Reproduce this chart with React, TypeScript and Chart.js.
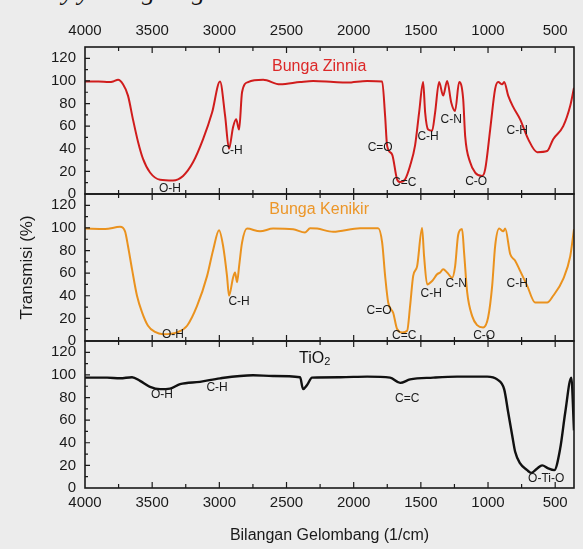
import { useEffect, useRef } from "react";
import { Chart, registerables } from "chart.js";

Chart.register(...registerables);

// ---------- data (wavenumber in 1/cm, transmission in %) ----------
const zinniaWn = [4000, 3900, 3820, 3790, 3754, 3717, 3680, 3643, 3605, 3568, 3516, 3441, 3345, 3270, 3196, 3121, 3054, 2995, 2957, 2928, 2898, 2875, 2853, 2831, 2786, 2674, 2548, 2399, 2302, 2150, 2050, 1900, 1788, 1766, 1751, 1714, 1677, 1654, 1617, 1580, 1543, 1513, 1483, 1468, 1446, 1416, 1394, 1364, 1334, 1304, 1274, 1245, 1215, 1185, 1170, 1133, 1096, 1044, 1021, 984, 947, 924, 895, 880, 850, 813, 761, 701, 634, 560, 515, 440, 388, 360];
const zinniaT = [99.5, 99.5, 99, 99.5, 101, 97, 87, 66, 46, 31, 19, 12.6, 12, 16, 28, 48.5, 72, 99.5, 69, 40, 59, 66, 57, 90, 99, 101, 97, 99, 100, 99, 98.5, 100, 99.5, 69, 42.6, 35, 13, 10.6, 13, 25, 43, 72, 99, 72, 57, 56, 72, 99, 87, 100, 81, 73.5, 99, 84, 51, 28, 19, 16, 22, 57, 93, 99, 97, 99, 87, 77, 66, 48.5, 37, 38, 48.5, 60, 78, 94];

const kenikirWn = [4000, 3850, 3739, 3702, 3680, 3650, 3613, 3576, 3531, 3479, 3419, 3315, 3240, 3166, 3091, 3047, 3002, 2972, 2943, 2928, 2898, 2883, 2868, 2853, 2831, 2794, 2697, 2600, 2451, 2362, 2324, 2272, 2153, 1952, 1818, 1788, 1766, 1743, 1706, 1677, 1639, 1602, 1580, 1557, 1528, 1491, 1476, 1453, 1416, 1379, 1356, 1334, 1304, 1267, 1245, 1222, 1193, 1178, 1155, 1118, 1081, 1036, 999, 969, 947, 917, 887, 872, 835, 798, 761, 709, 649, 560, 515, 440, 388, 360];
const kenikirT = [99.4, 99, 101, 97, 84, 63.5, 40, 25.6, 13.5, 8, 6, 7.6, 13.5, 31, 57.6, 80, 98, 84, 57.6, 40, 56, 60.6, 52, 66, 87, 99.4, 97, 99.4, 98.8, 96, 99.7, 99.4, 96.6, 99.7, 99.7, 87, 57.6, 34, 25, 10.6, 7.6, 9, 31, 57.6, 66, 100, 75, 50, 53, 59, 60.6, 63.5, 60.6, 56, 66, 94, 99, 78, 43, 22, 14, 12, 21, 49, 84, 99.4, 97, 99.4, 77, 71, 62, 49, 34, 34, 40, 55, 75, 99];

const tio2Wn = [4000, 3836, 3739, 3650, 3590, 3516, 3441, 3367, 3292, 3144, 2995, 2749, 2600, 2399, 2377, 2347, 2310, 2101, 1900, 1729, 1654, 1580, 1408, 1230, 1006, 932, 880, 850, 820, 798, 761, 709, 679, 634, 597, 552, 507, 463, 425, 380, 360];
const tio2T = [97.6, 97.6, 97, 98, 94.7, 89.5, 87.4, 87.9, 91.8, 93.9, 97, 99.7, 99, 98, 87.4, 91, 97.6, 98, 98.5, 97.6, 93, 96, 97.6, 98.5, 98.5, 96, 87.4, 67, 46.5, 32, 21.7, 15.8, 13.4, 17.3, 20, 17.3, 15.8, 34.8, 67, 97.6, 51];

// axis tick labels
const xTickValues = [4000, 3500, 3000, 2500, 2000, 1500, 1000, 500];
const xMinorValues = [3750, 3250, 2750, 2250, 1750, 1250, 750];
const yTickValues = [0, 20, 40, 60, 80, 100, 120];
const yMinorValues = [10, 30, 50, 70, 90, 110];

// band annotations (placed in data coordinates)
const zinniaBands = ["O-H", "C-H", "C=O", "C=C", "C-H", "C-N", "C-O", "C-H"];
const zinniaBandWn = [3367, 2905, 1803, 1624, 1446, 1274, 1088, 783];
const zinniaBandT = [4.4, 38, 40.6, 9.7, 51, 66, 10.6, 55.6];

const kenikirBands = ["O-H", "C-H", "C=O", "C=C", "C-H", "C-N", "C-O", "C-H"];
const kenikirBandWn = [3345, 2853, 1811, 1624, 1423, 1237, 1029, 783];
const kenikirBandT = [5.3, 34.4, 26.5, 4.4, 41.5, 50.3, 4.4, 51];

const tio2Bands = ["O-H", "C-H", "C=C", "O-Ti-O"];
const tio2BandWn = [3427, 3017, 1602, 567];
const tio2BandT = [82.5, 88.6, 79, 7.9];

const panelNames = ["Bunga Zinnia", "Bunga Kenikir", "TiO"];
const panelNameWn = [2257, 2257, 2290];
const panelNameT = [113, 116.5, 114];

const xMin = 360;
const xMax = 4000;
const yMin = 0;
const yMax = 130;

const RED = "rgb(208,28,28)";
const ORANGE = "rgb(234,146,30)";
const BLACK = "#111111";
const INK = "#1a1a1a";

const TICK_FAMILY = '"Liberation Sans Narrow", "Liberation Sans", Arial, sans-serif';
const SANS = '"Liberation Sans", Arial, sans-serif';

function toPoints(wn: number[], t: number[]) {
  return wn.map((w, i) => ({ x: w, y: t[i] }));
}

const framePlugin = {
  id: "ftirFrames",
  afterDatasetsDraw(chart: any) {
    const ctx = chart.ctx as CanvasRenderingContext2D;
    const xs = chart.scales.x;
    const panels = [
      { id: "yA", bands: zinniaBands, bw: zinniaBandWn, bt: zinniaBandT, color: "rgb(220,40,40)" },
      { id: "yB", bands: kenikirBands, bw: kenikirBandWn, bt: kenikirBandT, color: "rgb(236,150,40)" },
      { id: "yC", bands: tio2Bands, bw: tio2BandWn, bt: tio2BandT, color: "#111" },
    ];
    ctx.save();
    const left = xs.left;
    const right = xs.right;
    panels.forEach((p, pi) => {
      const ys = chart.scales[p.id];
      const top = ys.top;
      const bottom = ys.bottom;
      ctx.strokeStyle = INK;
      ctx.lineWidth = 1.6;
      ctx.strokeRect(left, top, right - left, bottom - top);
      ctx.lineWidth = 1.2;
      ctx.beginPath();
      const drawX = (v: number, len: number) => {
        const px = xs.getPixelForValue(v);
        if (px <= left + 1 || px >= right - 1) return;
        ctx.moveTo(px, top);
        ctx.lineTo(px, top + len);
        ctx.moveTo(px, bottom);
        ctx.lineTo(px, bottom - len);
      };
      xTickValues.forEach((v) => drawX(v, 6));
      xMinorValues.forEach((v) => drawX(v, 4));
      yTickValues.forEach((v) => {
        const py = ys.getPixelForValue(v);
        if (py < bottom - 1 && py > top + 1) {
          ctx.moveTo(left, py);
          ctx.lineTo(left + 5, py);
        }
      });
      yMinorValues.forEach((v) => {
        const pm = ys.getPixelForValue(v);
        ctx.moveTo(left, pm);
        ctx.lineTo(left + 3, pm);
      });
      ctx.stroke();

      // band labels
      ctx.fillStyle = INK;
      ctx.font = "12px " + SANS;
      ctx.textAlign = "center";
      ctx.textBaseline = "middle";
      p.bands.forEach((b, i) => {
        ctx.fillText(b, xs.getPixelForValue(p.bw[i]), ys.getPixelForValue(p.bt[i]));
      });

      // panel title
      ctx.fillStyle = p.color;
      ctx.font = "16px " + SANS;
      const tx = xs.getPixelForValue(panelNameWn[pi]);
      const ty = ys.getPixelForValue(panelNameT[pi]);
      if (pi === 2) {
        const main = panelNames[pi];
        const wMain = ctx.measureText(main).width;
        ctx.font = "11px " + SANS;
        const wSub = ctx.measureText("2").width;
        const start = tx - (wMain + wSub) / 2;
        ctx.textAlign = "left";
        ctx.font = "16px " + SANS;
        ctx.fillText(main, start, ty);
        ctx.font = "11px " + SANS;
        ctx.fillText("2", start + wMain, ty + 3);
      } else {
        ctx.fillText(panelNames[pi], tx, ty);
      }
    });
    ctx.restore();
  },
};

export default function App() {
  const ref = useRef<HTMLCanvasElement | null>(null);

  useEffect(() => {
    if (!ref.current) return;
    const tickFont = { family: TICK_FAMILY, size: 15 };
    const fmt = (v: any) => String(v);
    const xCommon = {
      type: "linear" as const,
      min: xMin,
      max: xMax,
      reverse: true,
      grid: { display: false, drawTicks: false },
      border: { display: false },
      afterBuildTicks: (s: any) => {
        s.ticks = xTickValues.map((v) => ({ value: v }));
      },
    };
    const yCommon = (title: boolean) => ({
      type: "linear" as const,
      position: "left" as const,
      stack: "panels",
      stackWeight: 1,
      min: yMin,
      max: yMax,
      grid: { display: false, drawTicks: false },
      border: { display: false },
      afterBuildTicks: (s: any) => {
        s.ticks = yTickValues.map((v) => ({ value: v }));
      },
      ticks: { autoSkip: false, padding: 9, color: INK, font: tickFont, callback: fmt },
      title: {
        display: title,
        text: "Transmisi (%)",
        color: INK,
        font: { family: SANS, size: 17 },
        padding: { top: 17, bottom: 0 },
      },
      afterFit: (s: any) => {
        s.width = 85;
      },
    });

    const chart = new Chart(ref.current, {
      type: "line",
      data: {
        datasets: [
          {
            data: toPoints(zinniaWn, zinniaT),
            xAxisID: "x",
            yAxisID: "yA",
            borderColor: RED,
            borderWidth: 2,
            pointRadius: 0,
            cubicInterpolationMode: "monotone",
          },
          {
            data: toPoints(kenikirWn, kenikirT),
            xAxisID: "x",
            yAxisID: "yB",
            borderColor: ORANGE,
            borderWidth: 2,
            pointRadius: 0,
            cubicInterpolationMode: "monotone",
          },
          {
            data: toPoints(tio2Wn, tio2T),
            xAxisID: "x",
            yAxisID: "yC",
            borderColor: BLACK,
            borderWidth: 2.4,
            pointRadius: 0,
            cubicInterpolationMode: "monotone",
          },
        ],
      },
      options: {
        animation: false,
        responsive: false,
        devicePixelRatio: 1,
        layout: { padding: { left: 0, right: 9, top: 0, bottom: 0 } },
        plugins: { legend: { display: false }, tooltip: { enabled: false } },
        scales: {
          x: {
            ...xCommon,
            position: "bottom",
            ticks: { autoSkip: false, maxRotation: 0, padding: 6, color: INK, font: tickFont, callback: fmt },
            title: {
              display: true,
              text: "Bilangan Gelombang (1/cm)",
              color: INK,
              font: { family: SANS, size: 16 },
              padding: { top: 0, bottom: 4 },
            },
            afterFit: (s: any) => {
              s.height = 61;
            },
          },
          xTop: {
            ...xCommon,
            position: "top",
            ticks: { autoSkip: false, maxRotation: 0, padding: 7, color: INK, font: tickFont, callback: fmt },
            afterFit: (s: any) => {
              s.height = 47;
            },
          },
          yC: yCommon(false),
          yB: yCommon(true),
          yA: yCommon(false),
        },
      } as any,
      plugins: [framePlugin],
    });
    return () => chart.destroy();
  }, []);

  const glyph = (ch: string, left: number) => (
    <span style={{ position: "absolute", left, top: 0 }}>{ch}</span>
  );

  return (
    <div
      style={{
        position: "fixed",
        left: 0,
        top: 0,
        width: 583,
        height: 549,
        background: "#ececec",
        overflow: "hidden",
      }}
    >
      <div
        style={{
          position: "absolute",
          left: 0,
          top: -21,
          width: 583,
          height: 40,
          fontFamily: '"Liberation Serif", serif',
          fontStyle: "italic",
          fontSize: 26,
          lineHeight: "26px",
          color: "#111",
        }}
      >
        {glyph("y", 62)}
        {glyph("y", 78)}
        {glyph("g", 142)}
        {glyph("g", 192)}
      </div>
      <canvas ref={ref} width={583} height={549} style={{ position: "absolute", left: 0, top: 0 }} />
    </div>
  );
}
